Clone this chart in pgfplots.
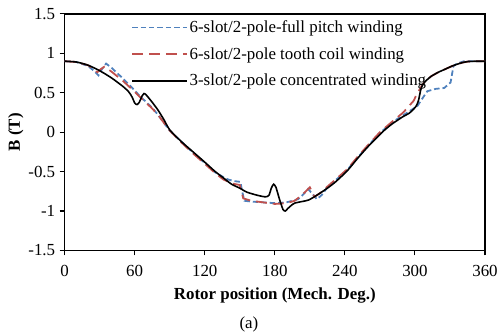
\documentclass[border=0pt]{standalone}
\usepackage{pgfplots}
\pgfplotsset{compat=1.18}
\usepackage{fontspec}
\setmainfont{Liberation Serif}
\definecolor{cblue}{RGB}{79,129,189}
\definecolor{cred}{RGB}{192,80,77}
\begin{document}
\begin{tikzpicture}
\begin{axis}[
  name=ax,
  scale only axis,
  width=423pt, height=238pt,
  xmin=0, xmax=360, ymin=-1.5, ymax=1.5,
  xtick={0,60,...,360},
  ytick={-1.5,-1,-0.5,0,0.5,1,1.5},
  yticklabels={-1.5,-1,-0.5,0,0.5,1,1.5},
  xticklabels={0,60,120,180,240,300,360},
  tick align=outside, tick pos=left,
  major tick length=5pt,
  axis line style={line width=1.4pt},
  every tick/.style={black, line width=1.1pt},
  tick label style={font=\fontsize{17}{20}\selectfont},
  xticklabel style={yshift=-6pt},
  yticklabel style={xshift=-1pt},
  xlabel={\textbf{Rotor position (Mech. Deg.)}},
  ylabel={\textbf{B (T)}},
  label style={font=\fontsize{17}{20}\selectfont},
  xlabel style={name=xl, yshift=-5pt},
  ylabel style={yshift=-2pt},
  legend style={at={(axis description cs:0.158,0.98)}, anchor=north west,
    draw=none, fill=none, font=\fontsize{17}{20}\selectfont, row sep=9.5pt, inner sep=0pt},
  legend cell align=left,
  legend image code/.code={\draw[#1] (0pt,0pt) -- (55pt,0pt);},
]
\addplot[cblue, line width=1.8pt, dash pattern=on 5.5pt off 3pt] coordinates {
(0,0.90)(10,0.89)(20,0.84)(25,0.78)(29,0.72)(32,0.80)(35.5,0.87)(40,0.82)(45,0.75)(50,0.68)(58,0.56)(65,0.45)(70,0.38)(75,0.31)(80,0.22)(85,0.12)(90,0.02)(100,-0.12)(110,-0.26)(120,-0.39)(129,-0.51)(136,-0.57)(140,-0.60)(145,-0.62)(150.6,-0.63)(152,-0.75)(154,-0.87)(160,-0.88)(170,-0.89)(180,-0.90)(190,-0.89)(200,-0.85)(205,-0.78)(208.5,-0.72)(212,-0.78)(216,-0.85)(220,-0.80)(225,-0.70)(232,-0.61)(242,-0.48)(251,-0.32)(260,-0.17)(270,-0.01)(282,0.14)(293.6,0.25)(302,0.33)(306,0.42)(310.6,0.52)(318,0.55)(325,0.56)(330.5,0.63)(333,0.84)(336,0.87)(342,0.90)(360,0.90)
};
\addlegendentry{6-slot/2-pole-full pitch winding}
\addplot[cred, line width=1.8pt, dash pattern=on 11pt off 6pt] coordinates {
(0,0.90)(10,0.89)(20,0.85)(25,0.80)(28,0.76)(31,0.80)(34,0.83)(40,0.77)(45,0.71)(50,0.65)(58,0.54)(65,0.44)(70,0.37)(75,0.30)(80,0.22)(85,0.12)(90,0.02)(100,-0.13)(110,-0.27)(120,-0.40)(129,-0.52)(136,-0.60)(143,-0.65)(150,-0.67)(153,-0.84)(160,-0.87)(170,-0.89)(180,-0.91)(190,-0.90)(197,-0.87)(203,-0.80)(210,-0.70)(214,-0.82)(220,-0.76)(225,-0.69)(232,-0.60)(242,-0.47)(251,-0.31)(260,-0.16)(270,0.00)(281,0.14)(290,0.25)(299,0.40)(302,0.50)(305,0.56)(306,0.60)(310,0.66)(314,0.71)(320,0.76)(326,0.80)(332,0.84)(340,0.88)(345,0.895)(352,0.90)(360,0.90)
};
\addlegendentry{6-slot/2-pole tooth coil winding}
\addplot[black, line width=1.6pt, smooth, tension=0.4] coordinates {
(0,0.90)(10,0.89)(20,0.85)(30,0.78)(40,0.69)(50,0.58)(55,0.51)(58,0.44)(60,0.37)(62,0.35)(64,0.38)(66,0.45)(68,0.49)(70,0.47)(75,0.38)(80,0.28)(85,0.16)(90,0.03)(100,-0.12)(110,-0.25)(120,-0.38)(129,-0.50)(136,-0.58)(143,-0.66)(150,-0.71)(156,-0.76)(165,-0.80)(172,-0.82)(175,-0.80)(177,-0.71)(179,-0.66)(181,-0.70)(184,-0.85)(187,-0.98)(189,-1.00)(191,-0.97)(194,-0.93)(197,-0.90)(203,-0.88)(209,-0.86)(217,-0.79)(225,-0.71)(232,-0.63)(242,-0.49)(251,-0.33)(260,-0.18)(272,0.00)(280,0.10)(289,0.19)(295,0.24)(298,0.28)(301,0.33)(303,0.40)(305,0.54)(307,0.61)(310,0.66)(314,0.71)(320,0.76)(326,0.80)(332,0.84)(340,0.88)(345,0.895)(352,0.90)(360,0.90)
};
\addlegendentry{3-slot/2-pole concentrated winding}
\end{axis}
\node[anchor=north, font=\fontsize{17}{20}\selectfont] at ([xshift=-26pt,yshift=-6pt]xl.south) {(a)};
\path (ax.south west) ++(-65pt,-83pt) rectangle ++(501pt,335pt);
\end{tikzpicture}
\end{document}
